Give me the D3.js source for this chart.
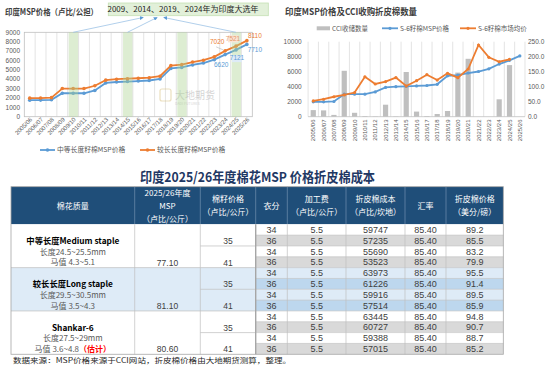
<!DOCTYPE html>
<html><head><meta charset="utf-8">
<script src="https://cdn.jsdelivr.net/npm/d3@7"></script>
<style>
body{margin:0;background:#fff}
svg{display:block}
text{font-family:"Noto Sans CJK SC","Noto Sans",sans-serif}
.num{font-family:"Liberation Sans Narrow","Liberation Sans",Arial,sans-serif}
</style>
</head><body><script>
// ---------- DATA ----------
const seasons = ["2005/06","2006/07","2007/08","2008/09","2009/10","2010/11","2011/12","2012/13","2013/14","2014/15","2015/16","2016/17","2017/18","2018/19","2019/20","2020/21","2021/22","2022/23","2023/24","2024/25","2025/26"];
const mediumMSP = [1760,1770,1800,2500,2500,2500,2800,3600,3700,3750,3800,3860,4020,5150,5255,5515,5726,6080,6620,7121,7710];
const longMSP   = [1980,1990,2030,3000,3000,3000,3300,3900,4000,4050,4100,4160,4320,5450,5550,5825,6025,6380,7020,7521,8110];
const electionSeasons = ["2009/10","2014/15","2024/25","2019/20"];
const s6MSP     = [1980,1990,2030,3000,3000,3000,3300,3900,4000,4050,4100,4160,4320,5450,5550,5825,6025,6380,7020,7521,8110];
const s6Market  = [2100,2330,2660,2900,3220,5330,4360,4690,5220,4090,4800,5600,4890,5780,5200,6360,9560,7920,7330,7650,null];
const cciProcure = [22,21,6,153,13,2,1,40,1,149,17,2,9,19,147,193,0,0,58,172,0];
const leftTicks = [0,1000,2000,3000,4000,5000,6000,7000,8000,9000];
const rightTicksL = [0,2000,4000,6000,8000,10000];
const rightTicksR = [0,50,100,150,200,250];

const qualityName = ["中等长度Medium staple","较长长度Long staple","Shankar-6"];
const qualityLen  = ["长度24.5~25.5mm","长度29.5~30.5mm","长度27.5~29mm"];
const qualityMic  = ["马值 4.3~5.1","马值 3.5~4.3","马值 3.6~4.8"];
const mspKg = ["77.10","81.10","80.60"];
const seedPrice = ["35","41"];
const ginOut = ["34","36"];
const procFee = "5.5";
const lintCost = [59747,57235,55690,53523,63973,61226,59916,57514,63445,60727,59388,57015];
const fxRate = "85.40";
const lintPrice = ["89.2","85.5","83.2","79.9","95.5","91.4","89.5","85.9","94.8","90.7","88.7","85.2"];
const headers = [["棉花质量"],["2025/26年度","MSP","（卢比/公斤）"],["棉籽价格","（卢比/公斤）"],["衣分"],["加工费","（卢比/公斤）"],["折皮棉成本","（卢比/坎地）"],["汇率"],["折皮棉价格","（美分/磅）"]];

const BLUE="#5b9bd5", ORANGE="#ed7d31", GRID="#d9d9d9", AX="#595959";

const svg = d3.select("body").append("svg").attr("width",550).attr("height",366);

// ---------- LEFT CHART ----------
const L = svg.append("g");
const xL = d3.scaleBand().domain(seasons).range([24.3,252.3]);
const yL = d3.scaleLinear().domain([0,9000]).range([116.7,32.3]);
const cx = s => xL(s)+xL.bandwidth()/2;

L.append("text").attr("x",5).attr("y",15).attr("font-size",8.5).attr("font-weight","bold").attr("fill","#404040")
  .attr("textLength",93).attr("lengthAdjust","spacingAndGlyphs").text("印度MSP价格（卢比/公担）");

// vertical grid
L.selectAll(".vg").data(seasons.slice(1)).join("line")
  .attr("x1",d=>xL(d)).attr("x2",d=>xL(d)).attr("y1",yL(9000)).attr("y2",yL(0))
  .attr("stroke",GRID).attr("stroke-width",0.7);
L.append("rect").attr("x",xL.range()[0]).attr("y",yL(9000)).attr("width",xL.range()[1]-xL.range()[0]).attr("height",yL(0)-yL(9000))
  .attr("fill","none").attr("stroke","#bfbfbf").attr("stroke-width",0.8);

L.selectAll(".yt").data(leftTicks).join("text").attr("x",20).attr("y",d=>yL(d)+2.3)
  .attr("text-anchor","end").attr("font-size",6.5).attr("fill",AX).attr("class","num").text(d=>d);
L.selectAll(".xt").data(seasons).join("text")
  .attr("transform",d=>`translate(${cx(d)+3},120) rotate(-45)`)
  .attr("text-anchor","end").attr("font-size",6).attr("fill",AX).attr("class","num").text(d=>d);

// watermark
const wm = L.append("g").attr("opacity",0.35);
wm.append("rect").attr("x",160).attr("y",89).attr("width",11).attr("height",12).attr("rx",2).attr("fill","none").attr("stroke","#c9a94a").attr("stroke-width",1.2);
wm.append("text").attr("x",175).attr("y",99).attr("font-size",10).attr("fill","#8c8c8c").text("大地期货");
wm.append("text").attr("x",175).attr("y",105).attr("font-size",3.6).attr("fill","#8c8c8c").text("DADI FUTURES");

// lines
function drawSeries(g, x, y, vals, color, r){
  const line = d3.line().defined(d=>d.v!=null).x(d=>x(d.s)+x.bandwidth()/2).y(d=>y(d.v));
  const data = seasons.map((s,i)=>({s,v:vals[i]}));
  g.append("path").datum(data).attr("d",line).attr("fill","none").attr("stroke",color).attr("stroke-width",1.8);
  g.selectAll(null).data(data.filter(d=>d.v!=null)).join("circle")
    .attr("cx",d=>x(d.s)+x.bandwidth()/2).attr("cy",d=>y(d.v)).attr("r",r).attr("fill",color);
}
drawSeries(L,xL,yL,mediumMSP,BLUE,1.8);
drawSeries(L,xL,yL,longMSP,ORANGE,1.8);

// election bands (drawn over lines, translucent)
L.selectAll(".band").data(electionSeasons).join("rect")
  .attr("x",d=>xL(d)+1).attr("width",xL.bandwidth()-1.5).attr("y",yL(9000)).attr("height",yL(0)-yL(9000))
  .attr("fill","#a9d18e").attr("opacity",0.4);

// data labels
const lab = (s, v, dx, dy, color, bg) => {
  const x = cx(s)+dx, y = yL(v)+dy;
  if(bg) L.append("rect").attr("x",x-5).attr("y",y-5.3).attr("width",10).attr("height",7).attr("fill",bg);
  L.append("text").attr("x",x).attr("y",y).attr("text-anchor","middle").attr("font-size",6.5).attr("fill",color).attr("class","num").text(v);
};
L.append("line").attr("x1",cx(seasons[18])-9).attr("y1",yL(7020)-4).attr("x2",cx(seasons[18])-2).attr("y2",yL(7020)-1).attr("stroke","#a6a6a6").attr("stroke-width",0.5);
lab(seasons[18],longMSP[18],-8,-7,ORANGE);
lab(seasons[19],longMSP[19],-3,-5.5,"#e59a6b","#fbe5d6");
lab(seasons[20],longMSP[20],8,-2.5,ORANGE);
lab(seasons[18],mediumMSP[18],-4,12.5,BLUE);
lab(seasons[19],mediumMSP[19],1,10.5,BLUE,"#deebf7");
lab(seasons[20],mediumMSP[20],8,7.5,BLUE);

// annotation
L.append("rect").attr("x",108.3).attr("y",3).attr("width",160).attr("height",12.7).attr("fill","#e2f0d9").attr("stroke","#c5e0b4").attr("stroke-width",0.8);
L.append("text").attr("x",183).attr("y",12.3).attr("text-anchor","middle").attr("font-size",8).attr("fill","#262626").text("2009、2014、2019、2024年为印度大选年");
const defs = svg.append("defs");
defs.append("marker").attr("id","ah").attr("viewBox","0 0 10 10").attr("refX",8).attr("refY",5).attr("markerWidth",5).attr("markerHeight",5).attr("orient","auto")
  .append("path").attr("d","M0,0L10,5L0,10z").attr("fill","#5b9bd5");
const arrowTargets = [["2009/10",143],["2014/15",157],["2024/25",164]];
L.selectAll(".arr").data(arrowTargets).join("line")
  .attr("x1",d=>cx(d[0])).attr("y1",yL(9000)).attr("x2",d=>d[1]).attr("y2",17.5)
  .attr("stroke","#9dc3e6").attr("stroke-width",0.8).attr("marker-end","url(#ah)");

// legend
const legL = [[40,"中等长度籽棉MSP价格",BLUE],[140,"较长长度籽棉MSP价格",ORANGE]];
legL.forEach(([x,t,c])=>{
  L.append("line").attr("x1",x).attr("x2",x+15).attr("y1",150).attr("y2",150).attr("stroke",c).attr("stroke-width",1.8);
  L.append("circle").attr("cx",x+7.5).attr("cy",150).attr("r",1.8).attr("fill",c);
  L.append("text").attr("x",x+17).attr("y",152.4).attr("font-size",6.8).attr("fill",AX).text(t);
});

// ---------- RIGHT CHART ----------
const R = svg.append("g");
const xR = d3.scaleBand().domain(seasons).range([308.1,525]);
const yRL = d3.scaleLinear().domain([0,10000]).range([116.7,41.7]);
const yRR = d3.scaleLinear().domain([0,250]).range([116.7,41.7]);
const cxR = s => xR(s)+xR.bandwidth()/2;

R.append("text").attr("x",285).attr("y",15).attr("font-size",9).attr("font-weight","bold").attr("fill","#404040")
  .attr("textLength",132).attr("lengthAdjust","spacingAndGlyphs").text("印度MSP价格及CCI收购折皮棉数量");

R.selectAll(".vg").data(seasons.concat(["end"])).join("line")
  .attr("x1",(d,i)=>xR.range()[0]+i*xR.bandwidth()).attr("x2",(d,i)=>xR.range()[0]+i*xR.bandwidth())
  .attr("y1",yRL(10000)).attr("y2",yRL(0)).attr("stroke",GRID).attr("stroke-width",0.7);
R.append("line").attr("x1",xR.range()[0]).attr("x2",xR.range()[1]).attr("y1",yRL(0)).attr("y2",yRL(0)).attr("stroke","#bfbfbf").attr("stroke-width",0.8);

R.selectAll(".yl").data(rightTicksL).join("text").attr("x",301.7).attr("y",d=>yRL(d)+2.3)
  .attr("text-anchor","end").attr("font-size",6.5).attr("fill",AX).attr("class","num").text(d=>d);
R.selectAll(".yr").data(rightTicksR).join("text").attr("x",528).attr("y",d=>yRR(d)+2.3)
  .attr("font-size",6.5).attr("fill",AX).attr("class","num").text(d=>d.toFixed(1));
R.selectAll(".xt").data(seasons).join("text")
  .attr("transform",d=>`translate(${cxR(d)+2},119.5) rotate(-90)`)
  .attr("text-anchor","end").attr("font-size",6).attr("fill",AX).attr("class","num").text(d=>d);

R.selectAll(".bar").data(seasons.map((s,i)=>({s,v:cciProcure[i]})).filter(d=>d.v>0)).join("rect")
  .attr("x",d=>cxR(d.s)-2.6).attr("width",5.2).attr("y",d=>yRR(d.v)).attr("height",d=>yRR(0)-yRR(d.v)).attr("fill","#bfbfbf");

drawSeries(R,xR,yRL,s6MSP,BLUE,1.6);
drawSeries(R,xR,yRL,s6Market,ORANGE,1.6);

// legend right
R.append("rect").attr("x",316.7).attr("y",26.3).attr("width",13.3).attr("height",4).attr("fill","#bfbfbf");
R.append("text").attr("x",332).attr("y",30.6).attr("font-size",6.5).attr("fill",AX).text("CCI收储数量");
[[382,"S-6籽棉MSP价格",BLUE],[460,"S-6籽棉市场均价",ORANGE]].forEach(([x,t,c])=>{
  R.append("line").attr("x1",x).attr("x2",x+16).attr("y1",28.3).attr("y2",28.3).attr("stroke",c).attr("stroke-width",1.8);
  R.append("circle").attr("cx",x+8).attr("cy",28.3).attr("r",1.6).attr("fill",c);
  R.append("text").attr("x",x+18).attr("y",30.6).attr("font-size",6.5).attr("fill",AX).text(t);
});

// ---------- TABLE ----------
const T = svg.append("g");
T.append("text").attr("x",257.5).attr("y",182).attr("text-anchor","middle").attr("font-size",13.5).attr("font-weight","bold")
  .attr("fill","#1f3864").attr("textLength",235).attr("lengthAdjust","spacingAndGlyphs").text("印度2025/26年度棉花MSP 价格折皮棉成本");

const colX = [11,134.7,200.3,255.7,287.3,346,405,446,503.3];
const hTop = 186.7, hBot = 224.3, rh = 10.83;
const rowY = r => hBot + r*rh;
const nRows = lintCost.length;

// header
T.append("rect").attr("x",colX[0]).attr("y",hTop).attr("width",colX[8]-colX[0]).attr("height",hBot-hTop).attr("fill","#1f4e79");
headers.forEach((lines,c)=>{
  const xm = (colX[c]+colX[c+1])/2, ym = (hTop+hBot)/2;
  const lh = 13;
  lines.forEach((t,k)=>{
    T.append("text").attr("x",xm).attr("y",ym+(k-(lines.length-1)/2)*lh+3).attr("text-anchor","middle")
      .attr("font-size",8).attr("fill","#fff").text(t);
  });
});
colX.slice(1,8).forEach(x=>T.append("line").attr("x1",x).attr("x2",x).attr("y1",hTop).attr("y2",hBot).attr("stroke","#7f9cb8").attr("stroke-width",0.6));

// group cells
const grpFill = ["#ffffff","#deebf7","#ffffff"];
const rowFill = (r)=>{ const g=Math.floor(r/4); const odd=r%2===1;
  if(g===1) return odd?"#bdd7ee":"#deebf7"; return odd?"#d9d9d9":"#ffffff"; };
qualityName.forEach((q,g)=>{
  T.append("rect").attr("x",colX[0]).attr("y",rowY(4*g)).attr("width",colX[3]-colX[0]).attr("height",4*rh).attr("fill",grpFill[g]);
});
lintCost.forEach((v,r)=>{
  T.append("rect").attr("x",colX[3]).attr("y",rowY(r)).attr("width",colX[8]-colX[3]).attr("height",rh).attr("fill",rowFill(r));
});
// borders
for(let r=1;r<nRows;r++){
  T.append("line").attr("x1",colX[3]).attr("x2",colX[8]).attr("y1",rowY(r)).attr("y2",rowY(r)).attr("stroke","#bfbfbf").attr("stroke-width",0.6);
  if(r%2===0) T.append("line").attr("x1",colX[2]).attr("x2",colX[3]).attr("y1",rowY(r)).attr("y2",rowY(r)).attr("stroke","#bfbfbf").attr("stroke-width",0.7);
  if(r%4===0) T.append("line").attr("x1",colX[0]).attr("x2",colX[2]).attr("y1",rowY(r)).attr("y2",rowY(r)).attr("stroke","#bfbfbf").attr("stroke-width",0.7);
}
colX.slice(1,8).forEach((x,i)=>T.append("line").attr("x1",x).attr("x2",x).attr("y1",hBot).attr("y2",rowY(nRows))
  .attr("stroke",i===2?"#a6a6a6":"#bfbfbf").attr("stroke-width",i===2?1.4:0.7));
T.append("rect").attr("x",colX[0]).attr("y",hTop).attr("width",colX[8]-colX[0]).attr("height",rowY(nRows)-hTop)
  .attr("fill","none").attr("stroke","#a6a6a6").attr("stroke-width",0.8);

// group text
qualityName.forEach((q,g)=>{
  const y0 = rowY(4*g), xm=(colX[0]+colX[1])/2;
  T.append("text").attr("x",xm).attr("y",y0+19.8).attr("text-anchor","middle").attr("font-size",8.3).attr("font-weight","bold").attr("fill","#000").text(q);
  T.append("text").attr("x",xm).attr("y",y0+30.5).attr("text-anchor","middle").attr("font-size",8).attr("fill","#595959").text(qualityLen[g]);
  const t = T.append("text").attr("x",xm).attr("y",y0+41).attr("text-anchor","middle").attr("font-size",8).attr("fill","#595959").text(qualityMic[g]);
  if(g===2) t.append("tspan").attr("fill","#ff0000").attr("font-weight","bold").text("（估计）");
  T.append("text").attr("x",(colX[1]+colX[2])/2).attr("y",y0+4*rh-2).attr("text-anchor","middle").attr("font-size",8.5).attr("fill","#404040").attr("class","num").text(mspKg[g]);
  seedPrice.forEach((p,k)=>{
    T.append("text").attr("x",(colX[2]+colX[3])/2).attr("y",y0+(2*k+2)*rh-2).attr("text-anchor","middle").attr("font-size",8.5).attr("fill","#404040").attr("class","num").text(p);
  });
});
// row text
lintCost.forEach((v,r)=>{
  const vals=[ginOut[r%2],procFee,v,fxRate,lintPrice[r]];
  vals.forEach((t,k)=>{
    T.append("text").attr("x",(colX[3+k]+colX[4+k])/2).attr("y",rowY(r)+rh/2+3.2).attr("text-anchor","middle")
      .attr("font-size",9).attr("fill","#404040").attr("class","num").text(t);
  });
});

// footnote
T.append("text").attr("x",13).attr("y",363).attr("font-size",7.4).attr("fill","#262626")
  .attr("textLength",278).attr("lengthAdjust","spacingAndGlyphs").text("数据来源：MSP价格来源于CCI网站，折皮棉价格由大地期货测算，整理。");
</script></body></html>
